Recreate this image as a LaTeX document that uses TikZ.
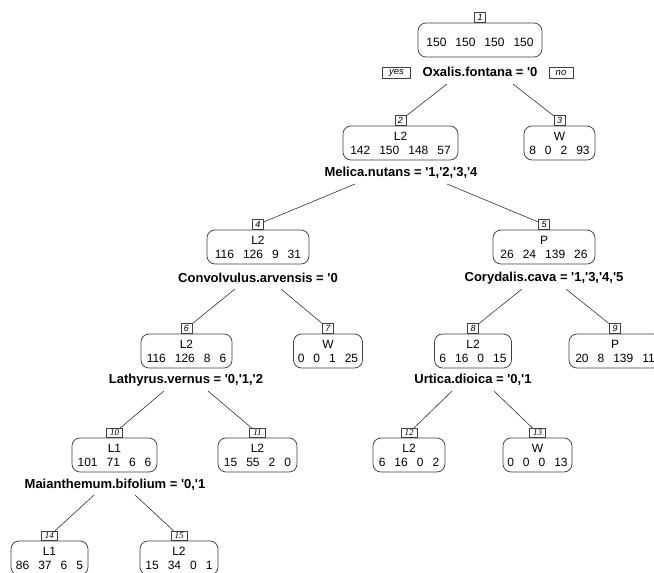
\documentclass[tikz,border=0pt]{standalone}
\usepackage{fontspec}
\setmainfont{Liberation Sans}
\newfontfamily\numserif{Liberation Serif}
\newcommand\gp{\hspace{9pt}}
\newcommand\q{\textquotesingle}
\tikzset{
  leaf/.style={draw=black!75, line width=0.75pt, rounded corners=8pt, minimum height=34pt,
    inner sep=0pt, align=center, font=\fontsize{12}{14}\selectfont},
  nbox/.style={draw=black!75, line width=0.5pt, inner sep=0pt, minimum height=10pt,
    minimum width=11pt, anchor=south, font=\fontsize{9}{9}\selectfont\itshape},
  nboxw/.style={nbox, minimum height=9pt, minimum width=16pt, font=\fontsize{9}{9}\selectfont\numserif\itshape},
  split/.style={font=\fontsize{13}{13}\selectfont\bfseries, inner sep=1pt},
  yesno/.style={draw=black!75, line width=0.5pt, inner xsep=2pt, inner ysep=1pt,
    minimum height=11pt, font=\fontsize{9.5}{9.5}\selectfont\itshape},
  branch/.style={draw=black!80, line width=0.6pt}
}
\begin{document}
\begin{tikzpicture}[x=1pt, y=-1pt]
\useasboundingbox (0,0) rectangle (654,573);
\clip (0,0) rectangle (654,573);
\fill[white] (0,0) rectangle (654,573);
% level 0
\node[leaf, minimum width=124pt] (n1) at (480,40) {\mbox{}\\150\gp 150\gp 150\gp 150};
\node[nbox] (b1) at (n1.north) {1};
\node[split] (s1) at (480,72) {Oxalis.fontana = \q0};
\node[yesno, minimum width=28pt] (yes) at (396.5,72.5) {yes};
\node[yesno, minimum width=24pt] (no) at (561,72.5) {no};
% level 1
\node[leaf, minimum width=115pt] (n2) at (400.5,143) {L2\\142\gp 150\gp 148\gp 57};
\node[nbox] (b2) at (n2.north) {2};
\node[leaf, minimum width=71pt] (n3) at (559.5,143) {W\\8\gp 0\gp 2\gp 93};
\node[nbox] (b3) at (n3.north) {3};
\node[split] (s2) at (401,173) {Melica.nutans = \q1,\q2,\q3,\q4};
% level 2
\node[leaf, minimum width=102pt] (n4) at (258,247) {L2\\116\gp 126\gp 9\gp 31};
\node[nbox] (b4) at (n4.north) {4};
\node[leaf, minimum width=102pt] (n5) at (544,247) {P\\26\gp 24\gp 139\gp 26};
\node[nbox] (b5) at (n5.north) {5};
\node[split] (s4) at (258,278) {Convolvulus.arvensis = \q0};
\node[split] (s5) at (544,278) {Corydalis.cava = \q1,\q3,\q4,\q5};
% level 3
\node[leaf, minimum width=91pt] (n6) at (186.5,351) {L2\\116\gp 126\gp 8\gp 6};
\node[nbox] (b6) at (n6.north) {6};
\node[leaf, minimum width=69pt] (n7) at (328,351) {W\\0\gp 0\gp 1\gp 25};
\node[nbox] (b7) at (n7.north) {7};
\node[leaf, minimum width=77pt] (n8) at (473,351) {L2\\6\gp 16\gp 0\gp 15};
\node[nbox] (b8) at (n8.north) {8};
\node[leaf, minimum width=92pt] (n9) at (615,351) {P\\20\gp 8\gp 139\gp 11};
\node[nbox] (b9) at (n9.north) {9};
\node[split] (s6) at (186,380) {Lathyrus.vernus = \q0,\q1,\q2};
\node[split] (s8) at (473,380) {Urtica.dioica = \q0,\q1};
% level 4
\node[leaf, minimum width=85pt] (n10) at (114.5,455) {L1\\101\gp 71\gp 6\gp 6};
\node[nboxw] (b10) at (n10.north) {10};
\node[leaf, minimum width=79pt] (n11) at (257.5,455) {L2\\15\gp 55\gp 2\gp 0};
\node[nboxw] (b11) at (n11.north) {11};
\node[leaf, minimum width=72pt] (n12) at (409,455) {L2\\6\gp 16\gp 0\gp 2};
\node[nboxw] (b12) at (n12.north) {12};
\node[leaf, minimum width=69pt] (n13) at (537.5,455) {W\\0\gp 0\gp 0\gp 13};
\node[nboxw] (b13) at (n13.north) {13};
\node[split] (s10) at (115,485) {Maianthemum.bifolium = \q0,\q1};
% level 5
\node[leaf, minimum width=77pt] (n14) at (49.5,558) {L1\\86\gp 37\gp 6\gp 5};
\node[nboxw] (b14) at (n14.north) {14};
\node[leaf, minimum width=78pt] (n15) at (179,558) {L2\\15\gp 34\gp 0\gp 1};
\node[nboxw] (b15) at (n15.north) {15};
% branches
\coordinate (a1) at (447,84);  \coordinate (c1) at (513,84);
\coordinate (a2) at (355,184); \coordinate (c2) at (447,184);
\coordinate (a4) at (235,289); \coordinate (c4) at (281,289);
\coordinate (a5) at (522,289); \coordinate (c5) at (566,289);
\coordinate (a6) at (164,391); \coordinate (c6) at (208,391);
\coordinate (a8) at (452,391); \coordinate (c8) at (494,391);
\coordinate (a10) at (94,495); \coordinate (c10) at (135,495);
\draw[branch] (a1) -- (b2);  \draw[branch] (c1) -- (b3);
\draw[branch] (a2) -- (b4);  \draw[branch] (c2) -- (b5);
\draw[branch] (a4) -- (b6);  \draw[branch] (c4) -- (b7);
\draw[branch] (a5) -- (b8);  \draw[branch] (c5) -- (b9);
\draw[branch] (a6) -- (b10); \draw[branch] (c6) -- (b11);
\draw[branch] (a8) -- (b12); \draw[branch] (c8) -- (b13);
\draw[branch] (a10) -- (b14); \draw[branch] (c10) -- (b15);
\end{tikzpicture}
\end{document}
